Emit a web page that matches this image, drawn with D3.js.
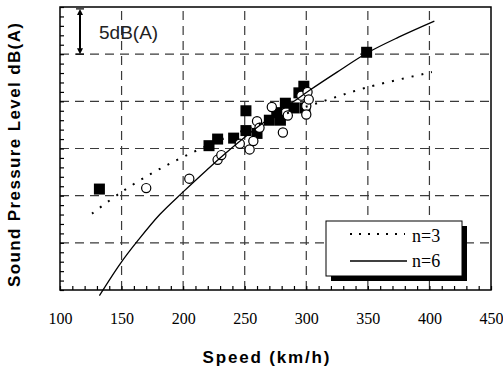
<!DOCTYPE html>
<html><head><meta charset="utf-8">
<script src="https://cdn.jsdelivr.net/npm/d3@7"></script>
<style>
body{margin:0;background:#fff}
.serif{font-family:"Liberation Serif","Times New Roman",Times,"DejaVu Serif",serif}
.sans{font-family:"Liberation Sans",Arial,Helvetica,sans-serif}
</style>
</head><body>
<svg id="c" width="503" height="369"></svg>
<script>
// ---- data ----
const xTickLabels = [100, 150, 200, 250, 300, 350, 400, 450];
const xGridValues = [150, 200, 250, 300, 350, 400];
const yGridValues = [5, 10, 15, 20, 25];   // relative dB, 5 dB per grid step
const squares = [
  [132, 10.7], [221, 15.3], [228, 16.0], [241, 16.1], [251, 19.0], [251, 16.9],
  [260, 16.6], [270, 18.0], [276, 18.8], [279, 18.0], [283, 19.8], [290, 19.3],
  [294, 20.9], [298, 21.6], [299, 19.3], [349, 25.2]
];
const circles = [
  [170, 10.8], [205, 11.8], [228, 13.8], [231, 14.3], [246, 15.5], [254, 14.9],
  [257, 15.8], [260, 17.9], [262, 17.2], [272, 19.4], [281, 16.7], [285, 18.5],
  [296, 20.6], [300, 19.5], [301, 21.0], [302, 20.2], [300, 18.6]
];
const fitN3 = [
  [126, 8.1], [149, 10.3], [175, 12.4], [200, 14.1], [230, 15.9], [260, 17.5],
  [290, 19.0], [311, 19.9], [350, 21.5], [402, 23.1]
];
const fitN6 = [
  [132, -0.6], [149, 2.8], [163, 5.2], [181, 8.0], [200, 10.4], [219, 12.7],
  [230, 14.0], [250, 16.2], [270, 18.2], [290, 20.0], [303, 21.2], [325, 23.1],
  [349, 25.1], [375, 26.8], [404, 28.5]
];
const legendLabels = ["n=3", "n=6"];
const xTitle = "Speed (km/h)";
const yTitle = "Sound Pressure Level dB(A)";
const annotText = "5dB(A)";
const annotRange = [29.8, 25];

// ---- layout ----
const L = 60, R = 491, T = 7, B = 290;
const svg = d3.select("#c");
const x = d3.scaleLinear().domain([100, 450]).range([L, R]);
const y = d3.scaleLinear().domain([0, 30]).range([B, T]);

// grid
const grid = svg.append("g").attr("stroke", "#3a3a3a").attr("stroke-width", 1.2)
  .attr("stroke-dasharray", "9,6").attr("fill", "none");
grid.selectAll("line.h").data(yGridValues).join("line").attr("class", "h")
  .attr("x1", L).attr("x2", R).attr("y1", d => y(d)).attr("y2", d => y(d));
grid.selectAll("line.v").data(xGridValues).join("line").attr("class", "v")
  .attr("x1", d => x(d)).attr("x2", d => x(d)).attr("y1", B).attr("y2", T);

// minor ticks (inside)
const xAxis = d3.axisBottom(x).tickValues(d3.range(100, 451, 10)).tickSize(-4).tickFormat("");
svg.append("g").attr("transform", `translate(0,${B})`).call(xAxis)
  .call(g => g.select(".domain").remove())
  .call(g => g.selectAll("line").attr("stroke", "#000").attr("stroke-width", 1.2));
const yAxis = d3.axisLeft(y).tickValues(d3.range(0, 31, 1)).tickSize(-4).tickFormat("");
svg.append("g").attr("transform", `translate(${L},0)`).call(yAxis)
  .call(g => g.select(".domain").remove())
  .call(g => g.selectAll("line").attr("stroke", "#000").attr("stroke-width", 1.2));

// tick labels
const xLab = d3.axisBottom(x).tickValues(xTickLabels).tickSize(0).tickPadding(23).tickFormat(d3.format("d"));
svg.append("g").attr("transform", `translate(0,${B})`).call(xLab)
  .attr("font-family", null).attr("font-size", null).attr("class", "serif")
  .call(g => g.select(".domain").remove())
  .call(g => g.selectAll("text").attr("class", "serif").style("font-size", "16px").attr("fill", "#000"));

// legend
const lg = svg.append("g");
lg.append("rect").attr("x", 331).attr("y", 226).attr("width", 136).attr("height", 55).attr("fill", "#000");
lg.append("rect").attr("x", 326).attr("y", 221).attr("width", 136).attr("height", 55)
  .attr("fill", "#fff").attr("stroke", "#000").attr("stroke-width", 1);
lg.append("line").attr("x1", 350).attr("x2", 405).attr("y1", 234).attr("y2", 234)
  .attr("stroke", "#000").attr("stroke-width", 2).attr("stroke-dasharray", "2,7");
lg.append("line").attr("x1", 350).attr("x2", 407).attr("y1", 261).attr("y2", 261)
  .attr("stroke", "#000").attr("stroke-width", 1.3);
lg.selectAll("text").data(legendLabels).join("text")
  .attr("class", "serif").attr("x", 412).attr("y", (d, i) => 242 + i * 25)
  .style("font-size", "18px").text(d => d);

// markers
svg.append("g").selectAll("rect").data(squares).join("rect")
  .attr("x", d => x(d[0]) - 5.5).attr("y", d => y(d[1]) - 5.5)
  .attr("width", 11).attr("height", 11).attr("fill", "#000");
svg.append("g").selectAll("circle").data(circles).join("circle")
  .attr("cx", d => x(d[0])).attr("cy", d => y(d[1])).attr("r", 4.6)
  .attr("fill", "#fff").attr("stroke", "#000").attr("stroke-width", 1.2);

// fit lines
const line = d3.line().x(d => x(d[0])).y(d => y(d[1])).curve(d3.curveCatmullRom);
svg.append("path").datum(fitN3).attr("d", line).attr("fill", "none")
  .attr("stroke", "#000").attr("stroke-width", 2).attr("stroke-dasharray", "2,8");
svg.append("path").datum(fitN6).attr("d", line).attr("fill", "none")
  .attr("stroke", "#000").attr("stroke-width", 1.3);

// frame
svg.append("rect").attr("x", L).attr("y", T).attr("width", R - L).attr("height", B - T)
  .attr("fill", "none").attr("stroke", "#000").attr("stroke-width", 1.5);

// 5 dB annotation arrow
const ax = 80, ay1 = y(annotRange[0]), ay2 = y(annotRange[1]);
svg.append("line").attr("x1", ax).attr("x2", ax).attr("y1", ay1 + 4).attr("y2", ay2 - 4)
  .attr("stroke", "#000").attr("stroke-width", 2);
svg.append("path").attr("d", `M${ax},${ay1} L${ax - 3},${ay1 + 6} L${ax + 3},${ay1 + 6} Z`).attr("fill", "#000");
svg.append("path").attr("d", `M${ax},${ay2} L${ax - 3},${ay2 - 6} L${ax + 3},${ay2 - 6} Z`).attr("fill", "#000");
svg.append("line").attr("x1", ax - 4).attr("x2", ax + 4).attr("y1", ay1).attr("y2", ay1).attr("stroke", "#000").attr("stroke-width", 1.2);
svg.append("line").attr("x1", ax - 4).attr("x2", ax + 4).attr("y1", ay2).attr("y2", ay2).attr("stroke", "#000").attr("stroke-width", 1.2);
svg.append("text").attr("class", "sans").attr("x", 99).attr("y", 39)
  .style("font-size", "19px").attr("fill", "#222").text(annotText);

// axis titles
svg.append("text").attr("class", "sans").attr("x", 266).attr("y", 363).attr("text-anchor", "middle")
  .style("font-weight", "bold").style("font-size", "17px")
  .attr("textLength", 127).attr("lengthAdjust", "spacing").text(xTitle);
svg.append("text").attr("class", "sans").attr("transform", "translate(20,155) rotate(-90)").attr("text-anchor", "middle")
  .style("font-weight", "bold").style("font-size", "17px")
  .attr("textLength", 264).attr("lengthAdjust", "spacing").text(yTitle);
</script>
</body></html>
